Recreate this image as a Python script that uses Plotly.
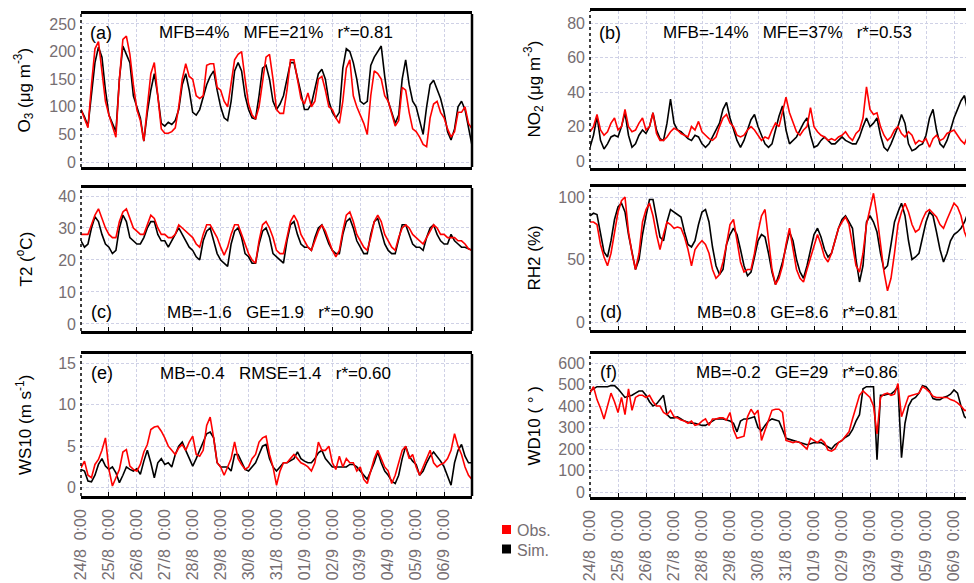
import plotly.graph_objects as go

# ---------------- data (3-hourly readings, hours since 24/8 0:00) ----------------
HOURS = list(range(0, 337, 3))
TICK_HOURS = [0, 24, 48, 72, 96, 120, 144, 168, 192, 216, 240, 264, 288, 312]
TICK_LABELS = ["24/8\u00a0\u00a00:00", "25/8\u00a0\u00a00:00", "26/8\u00a0\u00a00:00", "27/8\u00a0\u00a00:00",
               "28/8\u00a0\u00a00:00", "29/8\u00a0\u00a00:00", "30/8\u00a0\u00a00:00", "31/8\u00a0\u00a00:00",
               "01/9\u00a0\u00a00:00", "02/9\u00a0\u00a00:00", "03/9\u00a0\u00a00:00", "04/9\u00a0\u00a00:00",
               "05/9\u00a0\u00a00:00", "06/9\u00a0\u00a00:00"]

O3_OBS = [95, 80, 62, 140, 205, 218, 165, 110,
          85, 65, 45, 150, 222, 228, 195, 140,
          95, 75, 38, 100, 160, 180, 120, 60,
          52, 52, 55, 62, 100, 150, 178, 155,
          150, 120, 115, 120, 175, 178, 178, 135,
          130, 110, 100, 145, 185, 195, 200, 150,
          105, 85, 78, 100, 150, 190, 195, 150,
          95, 88, 88, 130, 185, 185, 150, 115,
          105, 125, 100, 110, 150, 155, 130, 100,
          95, 80, 70, 110, 170, 185, 120, 100,
          85, 70, 50, 120, 165, 160, 150, 120,
          110, 85, 65, 75, 135, 130, 90, 60,
          55, 45, 32, 28, 80, 105, 110, 90,
          80, 60, 45, 55, 90, 90, 100, 70, 60]
O3_SIM = [95, 82, 65, 120, 180, 208, 190, 130,
          85, 70, 55, 150, 210, 195, 180, 120,
          100, 80, 38, 90, 130, 160, 120, 70,
          65, 72, 68, 75, 95, 140, 160, 130,
          90, 85, 95, 120, 140, 155, 165, 130,
          100, 80, 75, 110, 165, 180, 165, 120,
          95, 80, 78, 120, 170, 175, 150, 110,
          95, 105, 120, 150, 180, 180, 155, 125,
          95, 95, 105, 135, 160, 168, 150, 110,
          90, 80, 90, 170, 205, 200, 180, 150,
          110, 105, 110, 175, 190, 200, 210, 155,
          110, 90, 70, 85, 150, 185, 140, 110,
          100, 75, 50, 100, 140, 148, 130, 115,
          90, 55, 40, 60, 100, 110, 95, 60, 30]

NO2_OBS = [17, 20, 27, 18, 15, 17, 22, 25,
           18, 20, 30, 20, 17, 18, 22, 25,
           18, 20, 28, 16, 12, 12, 14, 17,
           19, 18, 16, 15, 14, 20, 18, 23,
           17, 15, 13, 12, 14, 20, 25, 27,
           22, 20, 15, 14, 15, 18, 20, 18,
           15, 12, 14, 13, 18, 22, 20, 28,
           37, 28, 22, 17, 15, 18, 20, 31,
           20, 17, 15, 14, 12, 13, 12, 14,
           15, 17, 14, 12, 16, 18, 25, 43,
           30, 27, 28, 20, 15, 12, 14, 18,
           20, 16, 14, 17, 15, 10, 12, 11,
           13, 8, 13, 15, 12, 13, 16, 17,
           18, 15, 12, 10, 15, 18, 18, 18, 18]
NO2_SIM = [8, 15, 26, 12, 7, 10, 14, 15,
           14, 20, 28, 15, 8, 10, 15, 18,
           16, 20, 28, 18, 13, 12, 22, 36,
           22, 18, 17, 15, 13, 12, 15, 14,
           10, 8, 10, 14, 18, 22, 30, 34,
           25, 18, 12, 8, 12, 18, 24, 27,
           20, 15, 10, 8, 10, 18, 26, 32,
           18, 10, 12, 14, 18, 22, 25, 15,
           8, 9, 12, 14, 12, 10, 10, 12,
           14, 12, 11, 10, 10, 14, 20, 25,
           20, 22, 25, 15, 8, 6, 10, 15,
           20, 27, 22, 10, 6, 7, 9, 10,
           15, 25, 30, 18, 10, 8, 12, 18,
           25, 30, 35, 38, 28, 32, 41, 35, 30]

T2_OBS = [28, 28, 28, 31, 34, 36, 33, 30,
          28, 27, 27, 32, 35, 36, 33, 30,
          29, 28, 28, 31, 34, 33, 30, 28,
          28, 27, 27, 28, 31, 30, 29, 28,
          27, 25, 24, 28, 31, 31, 29, 27,
          24, 21.5, 24, 28, 31, 31, 28, 25,
          22, 20, 19, 26, 31, 32, 30, 27,
          23, 22, 22, 27, 32, 34, 32, 28,
          26, 24, 23, 26, 29, 31, 29, 26,
          23, 21, 23, 29, 34, 35, 32, 28,
          26, 24, 23, 27, 32, 34, 32, 28,
          26, 24, 23, 27, 30, 31, 30, 28,
          27, 26, 25, 27, 29, 31, 30, 28,
          28, 27, 27, 27, 26, 26, 25, 23.5, 23]
T2_SIM = [26, 24, 25, 30, 33.5, 32, 28, 25,
          24, 22, 23, 30, 34, 32, 27, 26,
          25, 25, 27, 30, 32, 32, 28, 26,
          26, 24, 26, 28, 30, 28, 26, 24,
          23, 21, 20, 26, 29, 30, 26, 22,
          20, 19, 18, 25, 29, 30, 27, 22,
          21, 19, 19, 25, 29, 30, 27, 22,
          21, 20, 19, 26, 31, 32, 28, 25,
          24, 24, 23, 27, 30, 31, 28, 25,
          23, 22, 22, 28, 32, 33, 30, 26,
          24, 22, 22, 28, 32, 33, 29, 25,
          23, 22, 22, 27, 31, 31, 28, 25,
          24, 24, 23, 27, 30, 31, 28, 26,
          25, 25, 28, 26, 25, 24, 24, 23.5, 23]

RH2_OBS = [80, 80, 78, 62, 52, 45, 55, 72,
           88, 97, 100, 72, 55, 42, 55, 80,
           90, 95, 85, 70, 58, 70, 80, 78,
           75, 76, 75, 68, 58, 45, 58, 62,
           65, 62, 55, 42, 35, 38, 48, 62,
           78, 82, 65, 48, 40, 42, 42, 55,
           72, 85, 90, 65, 42, 30, 35, 45,
           62, 75, 58, 42, 35, 32, 42, 52,
           62, 70, 62, 52, 48, 55, 65, 75,
           80, 84, 78, 60, 45, 40, 55, 78,
           90, 103, 85, 62, 40, 25, 35, 55,
           78, 88, 95, 88, 78, 72, 74, 82,
           88, 90, 87, 84, 78, 75, 82, 88,
           95, 92, 85, 72, 65, 65, 65, 65, 65]
RH2_SIM = [85, 87, 86, 70, 56, 52, 65, 82,
           92, 95, 88, 70, 55, 42, 50, 70,
           85, 98, 98, 82, 68, 65, 80, 90,
           88, 86, 84, 72, 62, 60, 65, 78,
           88, 90, 80, 60, 45, 38, 42, 62,
           70, 75, 70, 58, 45, 37, 40, 52,
           65, 70, 68, 55, 40, 30, 38, 48,
           60, 72, 65, 50, 40, 35, 45, 58,
           70, 75, 68, 58, 52, 55, 65, 75,
           82, 85, 80, 75, 50, 32, 45, 80,
           85, 80, 72, 55, 42, 45, 62, 80,
           88, 95, 85, 65, 50, 52, 55, 68,
           80, 88, 85, 72, 58, 48, 55, 65,
           70, 72, 75, 80, 88, 95, 95, 95, 95]

WS10_OBS = [2.4, 3.2, 1.5, 1.2, 2.8, 3.4, 4.5, 6.0,
            2.2, 0.2, 1.2, 2.2, 4.3, 4.6, 2.6, 2.2,
            2.0, 2.8, 4.3, 5.2, 7.0, 7.3, 7.4, 6.8,
            6.0, 5.0, 4.5, 4.0, 4.8, 5.2, 4.5, 5.5,
            6.2, 4.0, 3.8, 4.5, 7.5, 8.5, 6.0, 3.0,
            2.5, 1.5, 2.5, 3.5, 5.5, 3.5, 2.8, 2.2,
            2.5, 3.5, 4.0, 5.5, 6.0, 6.2, 4.0, 2.5,
            0.3, 2.0, 3.0, 3.0, 3.5, 4.0, 3.5, 3.0,
            2.8, 2.5, 2.0, 3.0, 5.5, 4.5, 4.5, 5.0,
            3.0, 2.2, 3.8, 2.5, 3.5, 3.0, 3.0, 2.0,
            2.5, 1.0, 0.5, 2.0, 3.5, 4.5, 3.5, 2.5,
            2.0, 0.5, 1.5, 3.0, 4.5, 5.0, 3.5, 4.0,
            2.5, 1.5, 2.5, 3.5, 4.5, 3.0, 2.5, 2.8,
            3.0, 3.5, 4.5, 6.5, 5.0, 4.0, 2.5, 1.5, 1.0]
WS10_SIM = [2.2, 2.0, 0.8, 0.7, 1.5, 2.8, 3.5, 2.6,
            2.2, 2.5, 1.8, 0.6, 1.5, 2.5, 2.2, 2.0,
            2.3, 1.6, 3.2, 4.5, 3.0, 1.2, 3.0, 3.5,
            2.8, 3.0, 2.5, 4.0, 5.0, 5.5, 4.5, 3.5,
            2.6, 3.5, 4.5, 5.5, 6.5, 6.7, 6.0, 3.0,
            2.5, 2.5, 2.5, 2.0, 4.0, 4.0, 3.0, 2.2,
            2.0, 2.5, 3.0, 4.0, 5.0, 5.2, 3.5, 2.5,
            2.0, 2.5, 3.0, 3.0, 3.2, 3.5, 4.3, 3.5,
            3.2, 3.0, 3.0, 3.5, 4.2, 4.5, 3.5, 3.0,
            2.5, 2.5, 2.5, 2.5, 2.5, 2.8, 2.8, 2.5,
            2.0, 1.5, 1.0, 2.0, 3.0, 4.3, 3.0, 2.0,
            1.5, 0.8, 0.5, 1.5, 3.5, 5.0, 3.8, 3.2,
            2.8, 1.5, 2.0, 3.0, 3.8, 4.3, 3.8, 3.2,
            2.5, 1.5, 0.3, 3.0, 4.5, 5.2, 3.8, 3.0, 3.0]

WD10_OBS = [460, 490, 430, 390, 340, 400, 460, 420,
            370, 440, 360, 480, 380, 440, 450, 450,
            440, 450, 420, 400, 400, 370, 360, 380,
            350, 345, 335, 330, 320, 330, 310, 315,
            330, 340, 310, 340, 340, 345, 345, 335,
            370, 290, 250, 255, 260, 350, 385, 360,
            380, 240, 290, 330, 380, 385, 385, 370,
            240, 235, 230, 235, 230, 215, 200, 250,
            240, 230, 245, 230, 195, 190, 200, 230,
            240, 260, 280, 340, 400, 450, 470, 455,
            440, 400, 270, 440, 455, 460, 450, 455,
            505, 350, 400, 445, 450, 455, 460, 490,
            480, 465, 445, 440, 440, 440, 440, 430,
            425, 415, 400, 380, 380, 380, 380, 380, 380]
WD10_SIM = [470, 480, 490, 490, 490, 490, 495, 495,
            480, 460, 440, 445, 450, 460, 470, 470,
            450, 420, 400, 410, 430, 450, 360, 345,
            345, 350, 340, 330, 325, 320, 320, 315,
            310, 310, 320, 330, 340, 340, 340, 335,
            330, 320, 280, 330, 340, 340, 345, 350,
            300, 285, 310, 330, 340, 335, 330, 290,
            250, 245, 240, 235, 230, 225, 220, 225,
            230, 230, 230, 220, 210, 200, 220, 230,
            240, 255, 265, 290, 330, 360, 480, 490,
            490, 490, 150, 450, 450, 455, 455, 470,
            490, 160, 320, 400, 430, 440, 460, 495,
            490, 470, 435, 430, 430, 440, 445, 455,
            475, 460, 400, 350, 340, 350, 360, 360, 360]

for _s in (O3_OBS, O3_SIM, NO2_OBS, NO2_SIM, T2_OBS, T2_SIM, RH2_OBS, RH2_SIM,
           WS10_OBS, WS10_SIM, WD10_OBS, WD10_SIM):
    assert len(_s) == len(HOURS), len(_s)

# ---------------- layout helpers ----------------
# The page body adds an 8 px offset; positions below are given in window pixels
# and converted to figure (paper) coordinates.
W, H = 974, 583
OFF = 8
def px(x):
    return (x - OFF) / W
def py(y):
    return 1 - (y - OFF) / H

FONT = "Liberation Sans, Arial, sans-serif"
GRAY = "#766e72"
GRID = "#cfd1e6"
RED = "#ff0000"
BLACK = "#000000"
SP = "\u00a0\u00a0\u00a0"

panels = [
    dict(obs=O3_OBS, sim=O3_SIM, xd=(81, 472), yd=(14, 167), yr=(-9, 268), yt=[0, 50, 100, 150, 200, 250],
         title="O<sub>3</sub> (μg m<sup>-3</sup>)", tx=24, lab="(a)", labx=88, laby=33,
         stats="MFB=4%" + SP + "MFE=21%" + SP + "r*=0.81", sx=276, sy=33, left=True, bottom=False),
    dict(obs=NO2_OBS, sim=NO2_SIM, xd=(590, 982), yd=(11, 168), yr=(-4, 87), yt=[0, 20, 40, 60, 80],
         title="NO<sub>2</sub> (μg m<sup>-3</sup>)", tx=534, lab="(b)", labx=597, laby=33,
         stats="MFB=-14%" + SP + "MFE=37%" + SP + "r*=0.53", sx=787, sy=33, left=False, bottom=False),
    dict(obs=T2_OBS, sim=T2_SIM, xd=(81, 472), yd=(188, 331), yr=(-2.2, 42.5), yt=[0, 10, 20, 30, 40],
         title="T2 (<sup>o</sup>C)", tx=24, lab="(c)", labx=89, laby=312,
         stats="MB=-1.6" + SP + "GE=1.9" + SP + "r*=0.90", sx=270, sy=312, left=True, bottom=False),
    dict(obs=RH2_OBS, sim=RH2_SIM, xd=(590, 982), yd=(187, 330), yr=(-6.4, 108), yt=[0, 50, 100],
         title="RH2 (%)", tx=534, lab="(d)", labx=598, laby=312,
         stats="MB=0.8" + SP + "GE=8.6" + SP + "r*=0.81", sx=797, sy=312, left=False, bottom=False),
    dict(obs=WS10_OBS, sim=WS10_SIM, xd=(81, 472), yd=(354, 496), yr=(-1, 16.1), yt=[0, 5, 10, 15],
         title="WS10 (m s<sup>-1</sup>)", tx=24, lab="(e)", labx=89, laby=373,
         stats="MB=-0.4" + SP + "RMSE=1.4" + SP + "r*=0.60", sx=275, sy=373, left=True, bottom=True),
    dict(obs=WD10_OBS, sim=WD10_SIM, xd=(590, 982), yd=(354, 497), yr=(-23, 642), yt=[0, 100, 200, 300, 400, 500, 600],
         title="WD10 ( ° )", tx=534, lab="(f)", labx=598, laby=372,
         stats="MB=-0.2" + SP + "GE=29" + SP + "r*=0.86", sx=797, sy=372, left=False, bottom=True),
]

fig = go.Figure()
shapes = []
annotations = []
layout = {}

for i, p in enumerate(panels):
    n = i + 1
    xa = "x" if n == 1 else f"x{n}"
    ya = "y" if n == 1 else f"y{n}"
    fig.add_trace(go.Scatter(x=HOURS, y=p["sim"], mode="lines", line=dict(color=BLACK, width=1.6),
                             name="Sim.", showlegend=False, xaxis=xa, yaxis=ya))
    fig.add_trace(go.Scatter(x=HOURS, y=p["obs"], mode="lines", line=dict(color=RED, width=1.6),
                             name="Obs.", showlegend=False, xaxis=xa, yaxis=ya))
    xr = [0, (p["xd"][1] - p["xd"][0]) / (391 / 14) * 24] if p["left"] else \
         [0, (p["xd"][1] - p["xd"][0]) / 28.0 * 24]
    layout[f"xaxis{n}"] = dict(
        domain=[px(p["xd"][0]), px(p["xd"][1])], range=xr, anchor=ya, automargin=False,
        tickvals=TICK_HOURS, ticktext=TICK_LABELS, tickangle=-90,
        showticklabels=p["bottom"], ticks="inside", ticklen=4, tickcolor=BLACK, tickwidth=1,
        ticklabelstandoff=4,
        tickfont=dict(family=FONT, size=16, color=GRAY),
        showgrid=True, gridcolor=GRID, griddash="3px,2px", gridwidth=1,
        showline=True, mirror=True, linecolor=BLACK, linewidth=2.5, zeroline=False,
    )
    layout[f"yaxis{n}"] = dict(
        domain=[py(p["yd"][1]), py(p["yd"][0])], range=list(p["yr"]), anchor=xa, automargin=False,
        tickvals=p["yt"], ticks="", ticklabelstandoff=4,
        tickfont=dict(family=FONT, size=16, color=GRAY),
        showgrid=True, gridcolor=GRID, griddash="3px,2px", gridwidth=1,
        showline=False, zeroline=False,
    )
    shapes.append(dict(type="line", xref=f"{xa} domain", yref=f"{ya} domain", x0=0, x1=0, y0=0, y1=1,
                       line=dict(color=BLACK, width=1.5, dash="dot")))
    if p["left"]:
        shapes.append(dict(type="line", xref=f"{xa} domain", yref=f"{ya} domain", x0=1, x1=1, y0=0, y1=1,
                           line=dict(color=BLACK, width=2.5)))
    ymid = (p["yd"][0] + p["yd"][1]) / 2
    annotations.append(dict(text=p["title"], xref="paper", yref="paper", x=px(p["tx"]), y=py(ymid),
                            textangle=-90, showarrow=False, xanchor="center", yanchor="middle",
                            font=dict(family=FONT, size=17, color=BLACK)))
    annotations.append(dict(text=p["lab"], xref="paper", yref="paper", x=px(p["labx"]), y=py(p["laby"]),
                            showarrow=False, xanchor="left", yanchor="middle",
                            font=dict(family=FONT, size=18, color=BLACK)))
    annotations.append(dict(text=p["stats"], xref="paper", yref="paper", x=px(p["sx"]), y=py(p["sy"]),
                            showarrow=False, xanchor="center", yanchor="middle",
                            font=dict(family=FONT, size=17, color=BLACK)))

# legend (drawn manually: coloured squares + labels)
LEGEND_ITEMS = [("Obs.", RED, 529.5), ("Sim.", BLACK, 549)]
for label, col, yc in LEGEND_ITEMS:
    shapes.append(dict(type="rect", xref="paper", yref="paper", x0=px(502), x1=px(511),
                       y0=py(yc + 4.5), y1=py(yc - 4.5), fillcolor=col, line=dict(width=0)))
    annotations.append(dict(text=label, xref="paper", yref="paper", x=px(515), y=py(yc + 1),
                            showarrow=False, xanchor="left", yanchor="middle",
                            font=dict(family=FONT, size=16, color=GRAY)))

fig.update_layout(width=W, height=H, margin=dict(l=0, r=0, t=0, b=0, autoexpand=False),
                  paper_bgcolor="white", plot_bgcolor="white", showlegend=False,
                  shapes=shapes, annotations=annotations, **layout)

fig.write_html("out.html")
